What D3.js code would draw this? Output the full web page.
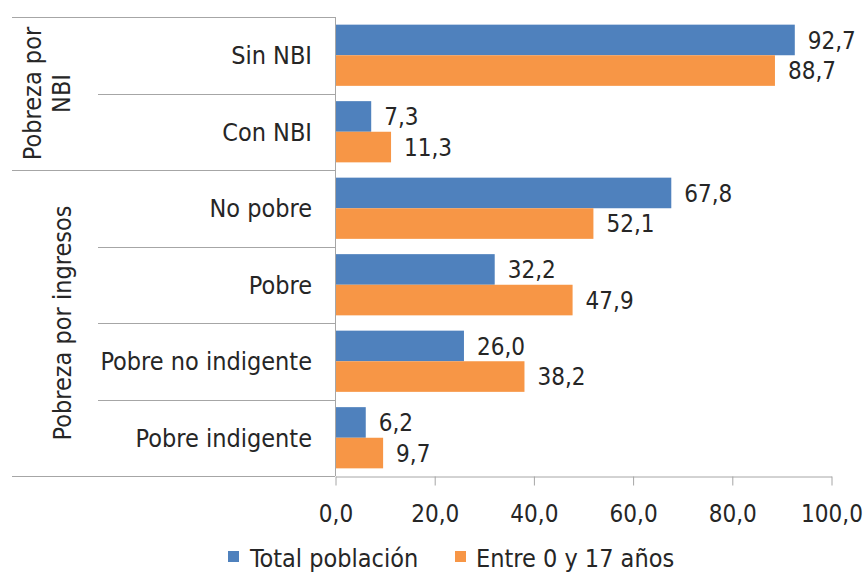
<!DOCTYPE html>
<html>
<head>
<meta charset="utf-8">
<script src="https://cdn.jsdelivr.net/npm/d3@7"></script>
<style>
  html, body { margin: 0; padding: 0; background: #fff; }
  svg text { font-family: "DejaVu Sans Condensed", "DejaVu Sans", sans-serif; font-stretch: condensed; fill: #262626; }
</style>
</head>
<body>
<svg id="chart" width="863" height="573"></svg>
<script>
// ---- data ----
const categories = ["Sin NBI", "Con NBI", "No pobre", "Pobre", "Pobre no indigente", "Pobre indigente"];
const seriesNames = ["Total población", "Entre 0 y 17 años"];
const totalPoblacion = [92.7, 7.3, 67.8, 32.2, 26.0, 6.2];
const entre0y17 = [88.7, 11.3, 52.1, 47.9, 38.2, 9.7];
const groupLabels = [["Pobreza por", "NBI"], ["Pobreza por ingresos"]];
const groupSizes = [2, 4];
const xTicks = [0, 20, 40, 60, 80, 100];

// ---- styles / layout ----
const colors = ["#4f81bd", "#f79646"];
const lineColor = "#a6a6a6";
const numSize = 24, labelSize = 25;
const plotLeft = 335, plotRight = 831, plotTop = 17, plotBottom = 476;
const frameLeft = 12, catLineLeft = 98;

const svg = d3.select("#chart");
const loc = d3.formatLocale({decimal: ",", thousands: ".", grouping: [3], currency: ["", ""]});
const fmt = loc.format(".1f");

const x = d3.scaleLinear().domain([0, 100]).range([plotLeft, plotRight]);
const y = d3.scaleBand().domain(categories).range([plotTop, plotBottom]).paddingInner(0.2).paddingOuter(0.1);
const ySub = d3.scaleBand().domain(seriesNames).range([0, y.bandwidth()]);
const step = y.step();
const rowTop = i => y(categories[i]) - (step - y.bandwidth()) / 2;

// row separators
const groupStarts = new Set([0]);
{ let acc = 0; groupSizes.forEach(s => { acc += s; groupStarts.add(acc); }); }
for (let i = 0; i <= categories.length; i++) {
  const yy = Math.round(rowTop(i < categories.length ? i : categories.length - 1) + (i < categories.length ? 0 : step)) + 0.5;
  svg.append("line")
    .attr("x1", groupStarts.has(i) ? frameLeft : catLineLeft).attr("x2", plotLeft)
    .attr("y1", yy).attr("y2", yy)
    .attr("stroke", lineColor).attr("stroke-width", 1);
}

// bars
const series = [totalPoblacion, entre0y17];
series.forEach((vals, si) => {
  svg.append("g").selectAll("rect").data(vals).join("rect")
    .attr("x", x(0))
    .attr("y", (d, i) => y(categories[i]) + ySub(seriesNames[si]))
    .attr("width", d => x(d) - x(0))
    .attr("height", ySub.bandwidth())
    .attr("fill", colors[si]);
  svg.append("g").selectAll("text").data(vals).join("text")
    .attr("x", d => x(d) + 13)
    .attr("y", (d, i) => y(categories[i]) + ySub(seriesNames[si]) + ySub.bandwidth() / 2)
    .attr("dy", "0.36em")
    .attr("font-size", numSize)
    .text(d => fmt(d));
});

// vertical axis line
svg.append("line")
  .attr("x1", Math.round(x(0)) + 0.5).attr("x2", Math.round(x(0)) + 0.5)
  .attr("y1", plotTop).attr("y2", plotBottom)
  .attr("stroke", lineColor);

// x axis
const xAxis = d3.axisBottom(x).tickValues(xTicks).tickFormat(fmt).tickSize(9).tickSizeOuter(0).tickPadding(19);
const gx = svg.append("g").attr("transform", `translate(0.5,${Math.round(plotBottom) + 0.5})`).call(xAxis);
gx.select(".domain").attr("stroke", lineColor);
gx.selectAll(".tick line").attr("stroke", lineColor);
gx.selectAll(".tick text").attr("font-size", numSize).attr("fill", "#262626")
  .style("font-family", '"DejaVu Sans Condensed", "DejaVu Sans", sans-serif');

// category labels
svg.append("g").selectAll("text").data(categories).join("text")
  .attr("x", 312)
  .attr("y", d => y(d) + y.bandwidth() / 2)
  .attr("dy", "0.36em")
  .attr("text-anchor", "end")
  .attr("font-size", labelSize)
  .text(d => d);

// group labels (rotated)
const groupBaselines = [[41, 70], [71]];
{
  let acc = 0;
  groupLabels.forEach((lines, gi) => {
    const top = rowTop(acc);
    const bottom = rowTop(acc + groupSizes[gi] - 1) + step;
    const cy = (top + bottom) / 2;
    lines.forEach((ln, li) => {
      svg.append("text")
        .attr("transform", `translate(${groupBaselines[gi][li]},${cy}) rotate(-90)`)
        .attr("text-anchor", "middle")
        .attr("font-size", labelSize)
        .text(ln);
    });
    acc += groupSizes[gi];
  });
}

// legend
const legendItems = [{x: 228, tx: 250}, {x: 455, tx: 476}];
seriesNames.forEach((name, i) => {
  svg.append("rect").attr("x", legendItems[i].x).attr("y", 551).attr("width", 11).attr("height", 11).attr("fill", colors[i]);
  svg.append("text").attr("x", legendItems[i].tx).attr("y", 567).attr("font-size", labelSize).text(name);
});
</script>
</body>
</html>
